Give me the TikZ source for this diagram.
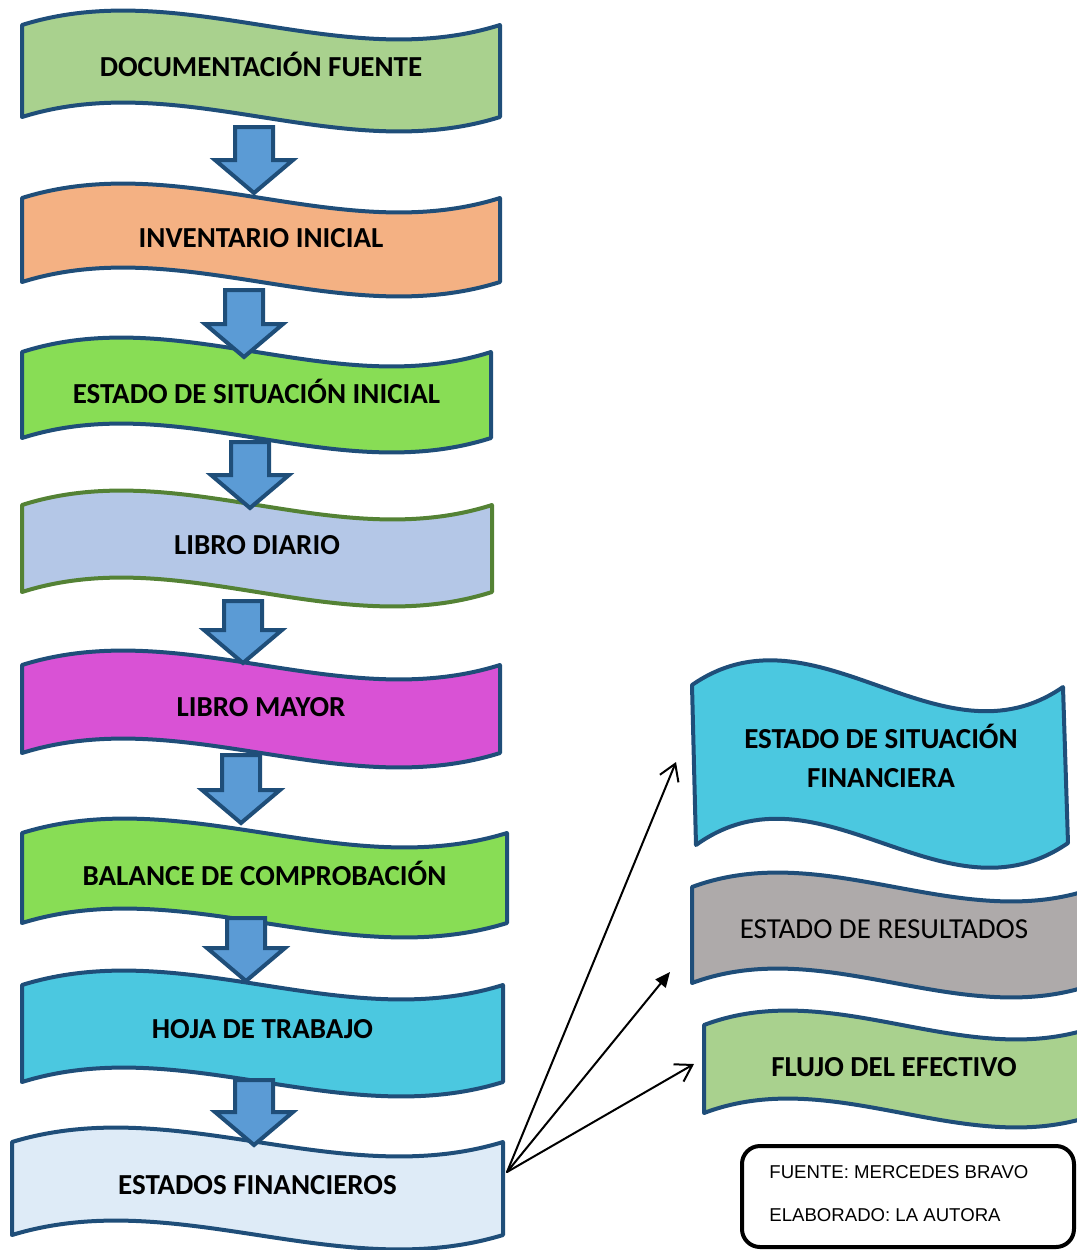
\documentclass[tikz,border=0pt]{standalone}
\usepackage{fontspec}
\setmainfont{Carlito}
\newfontfamily\arialfont{Liberation Sans}
\usetikzlibrary{arrows.meta}
\newcommand{\Unit}{0.5pt}
\newcommand{\Edge}{2pt}
\newcommand{\Amp}{50}
\definecolor{rim}{HTML}{1F4E79}
\definecolor{rimgreen}{HTML}{548235}
\definecolor{sage}{HTML}{A9D18E}
\definecolor{peach}{HTML}{F4B183}
\definecolor{lime}{HTML}{88DD55}
\definecolor{lavender}{HTML}{B4C7E7}
\definecolor{orchid}{HTML}{D952D5}
\definecolor{sky}{HTML}{4BC8E0}
\definecolor{mist}{HTML}{DEEBF7}
\definecolor{ash}{HTML}{AEAAAA}
\definecolor{shaft}{HTML}{5B9BD5}

\tikzset{
  boxtext/.style={font=\bfseries\fontsize{14.5}{19.5}\selectfont, anchor=base, align=center, inner sep=0pt},
  sourcetext/.style={font=\arialfont\fontsize{9.3}{11}\selectfont, anchor=base west, inner sep=0pt},
  flow/.style={line width=1pt, -{Straight Barb[length=8pt,width=10pt]}},
  flowsolid/.style={line width=1pt, -{Triangle[length=7.5pt,width=6.5pt]}},
}

\begin{document}
\begin{tikzpicture}[x=\Unit,y=-\Unit, line join=round, line cap=round]
  \useasboundingbox (0,0) rectangle (1077,1250);

  % ---- the steps, top to bottom -------------------------------------------
  \foreach \nm/\fc/\dc/\xa/\xb/\ya/\hh/\ty/\txt in {
      docfuente/sage/rim/22/500/25/92/76/DOCUMENTACIÓN FUENTE,
      inventario/peach/rim/22/500/198/84/247/INVENTARIO INICIAL,
      sitinicial/lime/rim/22/491/352/86/403/ESTADO DE SITUACIÓN INICIAL,
      diario/lavender/rimgreen/22/492/505/87/554/LIBRO DIARIO,
      mayor/orchid/rim/22/500/665/88/716/LIBRO MAYOR,
      balance/lime/rim/22/507/833/90/885/BALANCE DE COMPROBACIÓN,
      hoja/sky/rim/22/503/985/97/1038/HOJA DE TRABAJO,
      estfin/mist/rim/12/503/1142/93/1194/ESTADOS FINANCIEROS} {
    \filldraw[fill=\fc, draw=\dc, line width=\Edge]
      (\xa,\ya) .. controls ({\xa+(\xb-\xa)/3},{\ya-\Amp}) and ({\xa+2*(\xb-\xa)/3},{\ya+\Amp}) .. (\xb,\ya)
      -- (\xb,{\ya+\hh})
      .. controls ({\xa+2*(\xb-\xa)/3},{\ya+\hh+\Amp}) and ({\xa+(\xb-\xa)/3},{\ya+\hh-\Amp}) .. (\xa,{\ya+\hh})
      -- cycle;
    \node[boxtext] (\nm) at ({(\xa+\xb)/2},\ty) {\txt};
  }

  % ---- block arrows between the steps -------------------------------------
  % Drawn last, so each tip sits over the wave it points into.
  \foreach \cx/\yt/\yb in {254/127/193, 244/290/357, 250/442/508, 243/601/663,
                           241/755/823, 246/918/981, 254/1080/1145} {
    \filldraw[fill=shaft, draw=rim, line width=\Edge, line join=miter]
      (\cx-19,\yt) -- (\cx+19,\yt) -- (\cx+19,\yb-33) -- (\cx+39,\yb-33)
      -- (\cx,\yb) -- (\cx-39,\yb-33) -- (\cx-19,\yb-33) -- cycle;
  }

  % ---- the three statements -----------------------------------------------
  \filldraw[fill=sky, draw=rim, line width=\Edge]
    (692,685) .. controls (816,599) and (940,772) .. (1063,687)
    -- (1068,843) .. controls (944,929) and (820,756) .. (696,845) -- cycle;
  \node[boxtext] (sitfinanciera) at (881,787) {ESTADO DE SITUACIÓN\\FINANCIERA};

  \filldraw[fill=ash, draw=rim, line width=\Edge]
    (692,887) .. controls (827,837) and (962,937) .. (1097,887)
    -- (1097,983) .. controls (962,1033) and (827,933) .. (692,983) -- cycle;
  \node[boxtext, font=\fontsize{14.5}{19.5}\selectfont] (resultados) at (884,938) {ESTADO DE RESULTADOS};

  \filldraw[fill=sage, draw=rim, line width=\Edge]
    (704,1025) .. controls (836,975) and (968,1075) .. (1100,1025)
    -- (1100,1113) .. controls (968,1163) and (836,1063) .. (704,1113) -- cycle;
  \node[boxtext] (flujo) at (894,1076) {FLUJO DEL EFECTIVO};

  % ---- connectors ---------------------------------------------------------
  \coordinate (fork) at (507,1172);
  \coordinate (toSit) at (676,762);
  \coordinate (toRes) at (670,972);
  \coordinate (toFlujo) at (694,1064);
  \draw[flow] (fork) -- (toSit);
  \draw[flowsolid] (fork) -- (toRes);
  \draw[flow] (fork) -- (toFlujo);

  % ---- source note --------------------------------------------------------
  \draw[line width=2pt, rounded corners=9pt] (742,1146) rectangle (1074,1247);
  \node[sourcetext] (fuente) at (769,1178) {FUENTE: MERCEDES BRAVO};
  \node[sourcetext] (elaborado) at (769,1221) {ELABORADO: LA AUTORA};

\end{tikzpicture}
\end{document}
